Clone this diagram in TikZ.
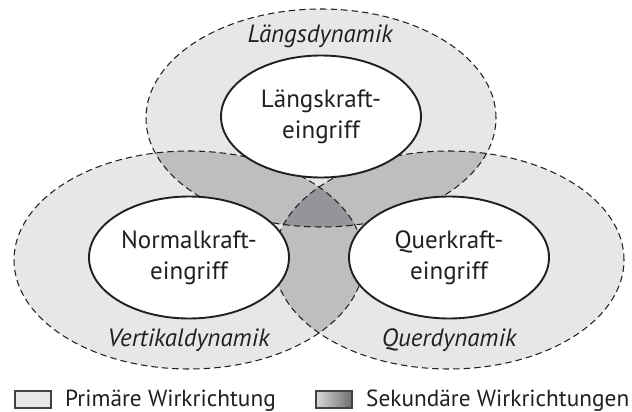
\documentclass[tikz,border=0pt]{standalone}
\usepackage{fontspec}
\setmainfont{PT Sans}
\usetikzlibrary{shapes.geometric}
\definecolor{light}{RGB}{230,231,232}
\definecolor{mid}{RGB}{188,190,192}
\definecolor{darkg}{RGB}{147,149,152}
\definecolor{ink}{RGB}{35,31,32}
\definecolor{gradl}{RGB}{215,216,217}
\definecolor{gradr}{RGB}{110,111,114}
\begin{document}
\begin{tikzpicture}[x=1pt,y=-1pt,
  zone/.style={draw=ink, dash pattern=on 6.5pt off 4pt, line width=1.05pt},
  core/.style={ellipse, draw=ink, line width=1.9pt, fill=white, minimum width=200pt, minimum height=122pt, inner sep=0pt, align=center, font=\fontsize{25}{31}\selectfont, text=ink},
  dyn/.style={font=\fontsize{25}{28}\selectfont\itshape, text=ink, anchor=base},
  legbox/.style={draw=ink!85, line width=1.1pt, minimum width=36pt, minimum height=17pt, inner sep=0pt},
  legtext/.style={font=\fontsize{23.3}{28}\selectfont, text=ink, anchor=base west, inner sep=0pt}]
\useasboundingbox (0,0) rectangle (632,412);
% primary regions
\fill[light] (321,118) ellipse [x radius=175pt, y radius=109pt]
             (189,260) ellipse [x radius=175pt, y radius=109pt]
             (449,260) ellipse [x radius=175pt, y radius=109pt];
% pairwise overlaps
\begin{scope}
  \clip (321,118) ellipse [x radius=175pt, y radius=109pt];
  \fill[mid] (189,260) ellipse [x radius=175pt, y radius=109pt]
             (449,260) ellipse [x radius=175pt, y radius=109pt];
\end{scope}
\begin{scope}
  \clip (189,260) ellipse [x radius=175pt, y radius=109pt];
  \fill[mid] (449,260) ellipse [x radius=175pt, y radius=109pt];
\end{scope}
% triple overlap
\begin{scope}
  \clip (321,118) ellipse [x radius=175pt, y radius=109pt];
  \clip (189,260) ellipse [x radius=175pt, y radius=109pt];
  \fill[darkg] (449,260) ellipse [x radius=175pt, y radius=109pt];
\end{scope}
% dashed outlines
\draw[zone] (321,118) ellipse [x radius=175pt, y radius=109pt];
\draw[zone] (189,260) ellipse [x radius=175pt, y radius=109pt];
\draw[zone] (449,260) ellipse [x radius=175pt, y radius=109pt];
% force nodes
\node[core] (lk) at (321,116.5) {Längskraft-\\eingriff};
\node[core] (nk) at (189,257.5) {Normalkraft-\\eingriff};
\node[core] (qk) at (449,257.5) {Querkraft-\\eingriff};
% dynamics labels
\node[dyn] (ld) at (320,43) {Längsdynamik};
\node[dyn] (vd) at (188.5,346) {Vertikaldynamik};
\node[dyn] (qd) at (449,346) {Querdynamik};
% legend
\node[legbox, fill=light] (b1) at (33,399.5) {};
\node[legtext] (t1) at (65,406) {Primäre Wirkrichtung};
\node[legbox, left color=gradl, right color=gradr] (b2) at (334,399.5) {};
\node[legtext] (t2) at (366,406) {Sekundäre Wirkrichtungen};
\end{tikzpicture}
\end{document}
